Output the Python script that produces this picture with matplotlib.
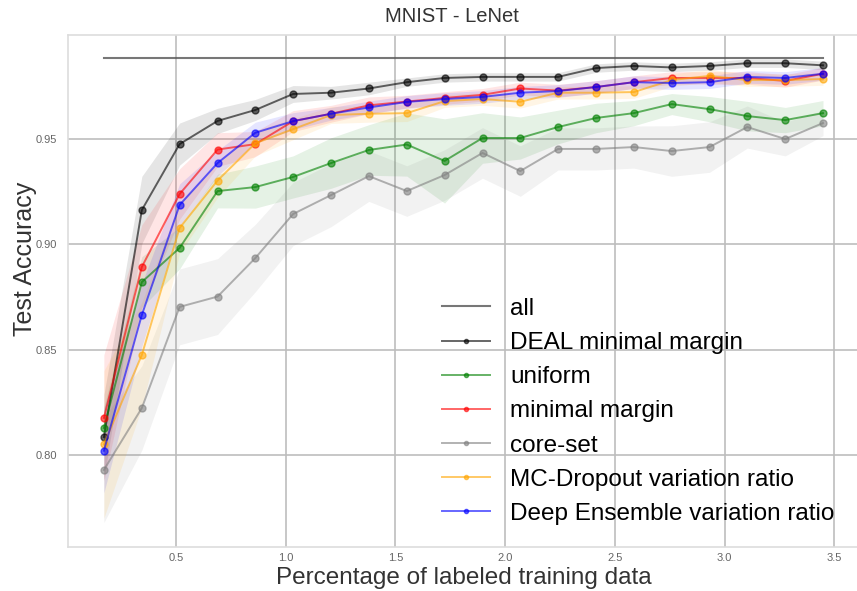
import numpy as np
import matplotlib
matplotlib.use('Agg')
import matplotlib.pyplot as plt

# percentage of labeled training data (100 .. 2000 of 58000 images)
pct = [0.172, 0.345, 0.517, 0.690, 0.862, 1.034, 1.207, 1.379, 1.552, 1.724,
       1.897, 2.069, 2.241, 2.414, 2.586, 2.759, 2.931, 3.103, 3.276, 3.448]

acc_all = 0.9885

deal = [0.8085, 0.9163, 0.9476, 0.9586, 0.9638, 0.9714, 0.9720, 0.9740, 0.9770, 0.9790,
        0.9795, 0.9795, 0.9795, 0.9837, 0.9847, 0.9840, 0.9847, 0.9860, 0.9860, 0.9850]
uniform = [0.8128, 0.8821, 0.8983, 0.9253, 0.9272, 0.9320, 0.9386, 0.9448, 0.9474, 0.9396,
           0.9505, 0.9505, 0.9557, 0.9600, 0.9623, 0.9666, 0.9642, 0.9609, 0.9590, 0.9623]
margin = [0.8176, 0.8893, 0.9239, 0.9450, 0.9476, 0.9585, 0.9620, 0.9660, 0.9678, 0.9695,
          0.9710, 0.9740, 0.9730, 0.9747, 0.9770, 0.9790, 0.9790, 0.9790, 0.9776, 0.9810]
coreset = [0.7929, 0.8223, 0.8703, 0.8752, 0.8935, 0.9144, 0.9234, 0.9324, 0.9253, 0.9329,
           0.9434, 0.9348, 0.9453, 0.9453, 0.9462, 0.9443, 0.9462, 0.9557, 0.9500, 0.9576]
mcdrop = [0.8050, 0.8475, 0.9078, 0.9303, 0.9480, 0.9547, 0.9614, 0.9620, 0.9623, 0.9680,
          0.9690, 0.9677, 0.9720, 0.9720, 0.9723, 0.9780, 0.9800, 0.9780, 0.9780, 0.9785]
ensemble = [0.8020, 0.8665, 0.9187, 0.9386, 0.9530, 0.9585, 0.9620, 0.9650, 0.9676, 0.9690,
            0.9700, 0.9720, 0.9728, 0.9747, 0.9770, 0.9766, 0.9770, 0.9795, 0.9790, 0.9810]

# spread (std) around each curve
deal_std = [0.020, 0.016, 0.010, 0.006, 0.005, 0.004, 0.003, 0.003, 0.002, 0.002,
            0.002, 0.002, 0.002, 0.002, 0.002, 0.002, 0.002, 0.002, 0.002, 0.002]
uniform_std = [0.010, 0.012, 0.010, 0.008, 0.010, 0.010, 0.012, 0.012, 0.015, 0.020,
               0.012, 0.010, 0.008, 0.007, 0.006, 0.005, 0.006, 0.007, 0.006, 0.006]
margin_std = [0.030, 0.020, 0.012, 0.008, 0.006, 0.005, 0.004, 0.004, 0.003, 0.003,
              0.003, 0.003, 0.003, 0.003, 0.003, 0.003, 0.003, 0.003, 0.003, 0.003]
coreset_std = [0.025, 0.020, 0.018, 0.018, 0.016, 0.015, 0.015, 0.012, 0.012, 0.012,
               0.012, 0.012, 0.010, 0.010, 0.010, 0.012, 0.012, 0.010, 0.008, 0.006]
mcdrop_std = [0.035, 0.025, 0.012, 0.008, 0.006, 0.005, 0.004, 0.004, 0.004, 0.003,
              0.003, 0.003, 0.003, 0.003, 0.003, 0.003, 0.003, 0.003, 0.003, 0.003]
ensemble_std = [0.020, 0.015, 0.010, 0.006, 0.005, 0.004, 0.003, 0.003, 0.003, 0.003,
                0.003, 0.003, 0.003, 0.003, 0.003, 0.003, 0.003, 0.003, 0.003, 0.003]

series = [
    ('DEAL minimal margin', deal, deal_std, 'black'),
    ('uniform', uniform, uniform_std, 'green'),
    ('minimal margin', margin, margin_std, 'red'),
    ('core-set', coreset, coreset_std, 'gray'),
    ('MC-Dropout variation ratio', mcdrop, mcdrop_std, 'orange'),
    ('Deep Ensemble variation ratio', ensemble, ensemble_std, 'blue'),
]

plt.rcParams['font.family'] = ['Liberation Sans', 'DejaVu Sans']

W, H = 857, 591
fig = plt.figure(figsize=(W / 100, H / 100), dpi=100)
ax = fig.add_axes([68 / W, (H - 547) / H, (859 - 68) / W, (547 - 35) / H])

ax.plot([pct[0], pct[-1]], [acc_all, acc_all], color='#555555', lw=1.5, alpha=0.8, label='all')
for name, vals, std, col in series:
    v = np.array(vals)
    s = np.array(std)
    ax.fill_between(pct, v - s, v + s, color=col, alpha=0.1, lw=0)
    ax.plot(pct, v, color=col, marker='o', ms=5, lw=1.4, alpha=0.6, label=name)

ax.set_xlim(0.0086, 3.612)
ax.set_ylim(0.7563, 0.9994)
ax.set_xticks([0.5, 1.0, 1.5, 2.0, 2.5, 3.0, 3.5])
ax.set_yticks([0.80, 0.85, 0.90, 0.95])
ax.grid(True, color='#bdbdbd', lw=1.2)
ax.set_axisbelow(True)
for sp in ax.spines.values():
    sp.set_color('#dddddd')
    sp.set_linewidth(1.2)
ax.tick_params(axis='x', length=0, labelsize=8, labelcolor='#666666', pad=4)
ax.tick_params(axis='y', length=0, labelsize=8, labelcolor='#666666', pad=8)

ax.set_xlabel('Percentage of labeled training data', fontsize=17.5, color='#333333', labelpad=3)
ax.set_ylabel('Test Accuracy', fontsize=18, color='#333333')
ax.yaxis.set_label_coords((37 - 68) / 791, (547 - 259) / 512)
fig.text(452 / W, 1 - 17 / H, 'MNIST - LeNet', fontsize=14.5, color='#333333',
         ha='center', va='center')

ax.legend(loc='upper left', bbox_to_anchor=(420 / W, 1 - 276 / H),
          bbox_transform=fig.transFigure, frameon=False, fontsize=17.5,
          labelspacing=0.5, handlelength=2.0, handletextpad=0.8, markerscale=0.6)

fig.savefig('out.png', dpi=100)
